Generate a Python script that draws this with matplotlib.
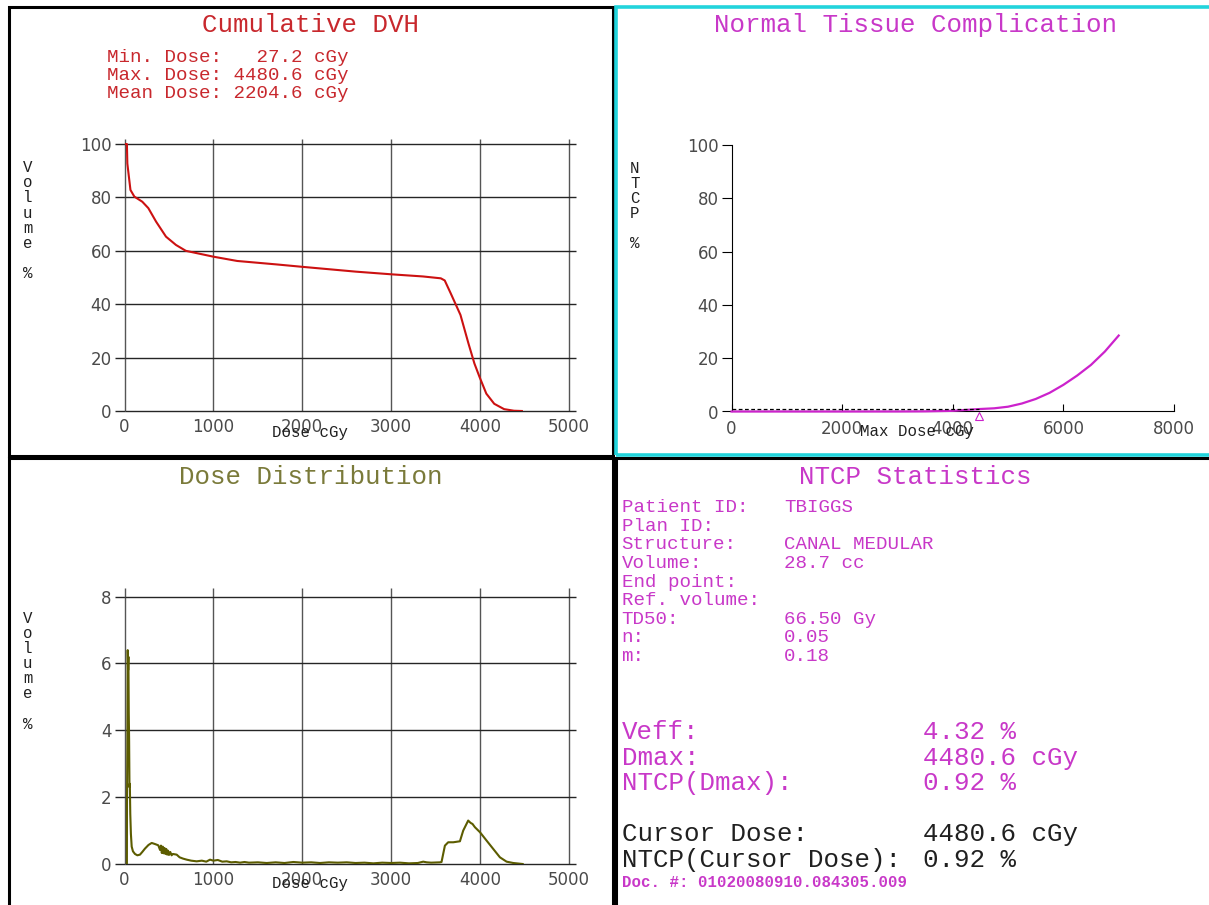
import matplotlib
matplotlib.use("Agg")
from matplotlib import pyplot as plt
from matplotlib.patches import Rectangle
from matplotlib.transforms import ScaledTranslation


# ---- Data ----

# Cumulative DVH (dose cGy, volume %)
dvh_dose = [0, 27, 32, 45, 67, 111, 200, 268, 356, 467, 579, 690, 1001, 1268, 1713,
            2002, 2603, 3003, 3358, 3559, 3603, 3670, 3780, 3870, 3937, 3994, 4071,
            4160, 4271, 4382, 4471]
dvh_volume = [100, 100, 92.7, 89, 82.8, 80.3, 78.4, 76, 70.9, 65.3, 62.2, 60, 57.8,
              56.2, 54.9, 54.0, 52.2, 51.2, 50.4, 49.7, 48.9, 44.1, 36.0, 25.3, 17.8,
              12.8, 6.5, 2.7, 0.7, 0.1, 0.0]

# Differential dose distribution (dose cGy, volume %)
dist_dose = [27, 28, 32, 36, 40, 44, 48, 52, 56, 60, 65, 72, 81, 95, 118, 145, 174,
             200, 230, 270, 306, 340, 380, 400, 410, 420, 430, 440, 450, 460, 470,
             480, 490, 500, 515, 530, 545, 587, 620, 660, 700, 750, 812, 870, 920,
             962, 1000, 1050, 1100, 1150, 1200, 1250, 1300, 1350, 1400, 1500, 1600,
             1700, 1800, 1900, 2000, 2100, 2200, 2300, 2400, 2500, 2600, 2700, 2800,
             2900, 3000, 3100, 3200, 3300, 3361, 3400, 3450, 3549, 3567, 3605, 3642,
             3699, 3774, 3811, 3867, 3886, 3900, 3915, 3943, 4000, 4074, 4149, 4224,
             4299, 4374, 4480]
dist_volume = [0.0, 1.8, 3.5, 6.4, 5.8, 6.2, 4.5, 3.7, 2.3, 2.4, 1.5, 0.9, 0.52, 0.38,
               0.3, 0.26, 0.28, 0.36, 0.46, 0.57, 0.63, 0.6, 0.56, 0.42, 0.55, 0.33,
               0.52, 0.32, 0.48, 0.3, 0.45, 0.28, 0.4, 0.27, 0.36, 0.26, 0.3, 0.28,
               0.2, 0.16, 0.13, 0.1, 0.08, 0.1, 0.07, 0.13, 0.1, 0.12, 0.07, 0.08,
               0.05, 0.06, 0.04, 0.06, 0.04, 0.05, 0.03, 0.05, 0.03, 0.06, 0.04, 0.05,
               0.03, 0.05, 0.04, 0.05, 0.03, 0.04, 0.02, 0.04, 0.03, 0.04, 0.02, 0.03,
               0.07, 0.05, 0.04, 0.05, 0.06, 0.55, 0.65, 0.65, 0.68, 1.0, 1.3, 1.25,
               1.22, 1.2, 1.1, 0.95, 0.7, 0.45, 0.2, 0.07, 0.03, 0.0]

# NTCP vs max dose (cGy, %)
ntcp_dose = [0, 1000, 2000, 3000, 3500, 4000, 4480.6, 4750, 5000, 5250, 5500, 5750,
             6000, 6250, 6500, 6750, 7000]
ntcp_value = [0, 0, 0, 0.01, 0.05, 0.25, 0.92, 1.2, 1.8, 3.0, 4.7, 7.0, 10.0, 13.5,
              17.5, 22.5, 28.5]

min_dose = 27.2
max_dose = 4480.6
mean_dose = 2204.6
cursor_dose = 4480.6
cursor_ntcp = 0.92
veff = 4.32

dvh_xticks = [0, 1000, 2000, 3000, 4000, 5000]
dvh_yticks = [0, 20, 40, 60, 80, 100]
dist_yticks = [0, 2, 4, 6, 8]
ntcp_xticks = [0, 2000, 4000, 6000, 8000]
ntcp_yticks = [0, 20, 40, 60, 80, 100]

stat_labels = ["Patient ID:", "Plan ID:", "Structure:", "Volume:", "End point:",
               "Ref. volume:", "TD50:", "n:", "m:"]
stat_values = ["TBIGGS", "", "CANAL MEDULAR", "28.7 cc", "", "", "66.50 Gy",
               "0.05", "0.18"]
result_labels = ["Veff:", "Dmax:", "NTCP(Dmax):"]
result_values = ["{:.2f} %".format(veff), "{:.1f} cGy".format(max_dose),
                 "{:.2f} %".format(cursor_ntcp)]
cursor_labels = ["Cursor Dose:", "NTCP(Cursor Dose):"]
cursor_values = ["{:.1f} cGy".format(cursor_dose), "{:.2f} %".format(cursor_ntcp)]
doc_number = "Doc. #: 01020080910.084305.009"


# ---- Styling ----

mono = "Liberation Mono"
red = "#cc1111"
red_text = "#c8282d"
magenta = "#cc22cc"
magenta_text = "#c838c8"
olive = "#5c5c00"
olive_text = "#7a7a3a"
cyan = "#22d4dc"
hgrid_c = "#252525"
vgrid_c = "#555555"
tick_c = "#4a4a4a"
big = 18.6
small = 13.8
tiny = 11.3

W, H = 1209, 905
fig = plt.figure(figsize=(W / 100, H / 100), dpi=100)
fig.patch.set_facecolor("white")


def add_axes_px(left, top, right, bottom):
  return fig.add_axes([left / W, 1 - bottom / H, (right - left) / W, (bottom - top) / H])


def ftext(x, y, s, **kw):
  kw.setdefault("family", mono)
  kw.setdefault("va", "center")
  fig.text(x / W, 1 - y / H, s, **kw)


def vlabel(x, y, s, step=15.1):
  for i, ch in enumerate(s):
    if ch != " ":
      ftext(x, y + i * step, ch, size=tiny, ha="center", color="#202020")


# Panel borders
for x0, y0, x1, y1, col, lw in [(9, 7, 613, 456, "black", 2.2),
                                (9, 458, 613, 910, "black", 2.2),
                                (616, 458, 1215, 910, "black", 2.2),
                                (616, 7, 1215, 455, cyan, 2.6)]:
  fig.add_artist(Rectangle((x0 / W, 1 - y1 / H), (x1 - x0) / W, (y1 - y0) / H,
                           transform=fig.transFigure, fill=False, edgecolor=col,
                           linewidth=lw))


def grid_axes(ax, xticks, yticks, xmax, ymax):
  ax.set_xlim(0, xmax)
  ax.set_ylim(0, ymax)
  for s in ax.spines.values():
    s.set_visible(False)
  ax.vlines(xticks, 0, ymax, color=vgrid_c, linewidth=1.0, clip_on=False)
  ax.hlines(yticks, 0, xmax, color=hgrid_c, linewidth=1.0, clip_on=False)
  ax.set_xticks(xticks)
  ax.set_yticks(yticks)
  ax.tick_params(axis="x", length=0, pad=5, labelsize=12, labelcolor=tick_c)
  ax.tick_params(axis="y", length=7.2, width=1.0, color=hgrid_c, pad=2.2,
                 labelsize=12, labelcolor=tick_c)
  ax.patch.set_alpha(0)


# ---- Cumulative DVH ----
ax1 = add_axes_px(124.5, 138.7, 576, 411)
grid_axes(ax1, dvh_xticks, dvh_yticks, 5080, 102)
ax1.plot(dvh_dose, dvh_volume, color=red, linewidth=1.5, zorder=5)

ftext(310, 25, "Cumulative DVH", size=big, ha="center", color=red_text)
ftext(106.7, 57, "Min. Dose: {:6.1f} cGy".format(min_dose), size=small, color=red_text)
ftext(106.7, 75.5, "Max. Dose: {:6.1f} cGy".format(max_dose), size=small, color=red_text)
ftext(106.7, 94, "Mean Dose: {:6.1f} cGy".format(mean_dose), size=small, color=red_text)
ftext(309.6, 432, "Dose cGy", size=tiny, ha="center", color="#202020")
vlabel(27.7, 167.7, "Volume %")

# ---- Dose distribution ----
ax3 = add_axes_px(124.5, 588.3, 576, 864)
grid_axes(ax3, dvh_xticks, dist_yticks, 5080, 8.25)
ax3.plot(dist_dose, dist_volume, color=olive, linewidth=1.5, zorder=5)

ftext(310.4, 476.7, "Dose Distribution", size=big, ha="center", color=olive_text)
ftext(309.6, 883.3, "Dose cGy", size=tiny, ha="center", color="#202020")
vlabel(27.7, 618.3, "Volume %")

# ---- NTCP curve ----
ax2 = add_axes_px(731.5, 145, 1174, 411.5)
ax2.set_xlim(0, 8000)
ax2.set_ylim(0, 100)
ax2.spines["top"].set_visible(False)
ax2.spines["right"].set_visible(False)
ax2.set_xticks(ntcp_xticks)
ax2.set_yticks(ntcp_yticks)
ax2.tick_params(axis="x", direction="in", length=5, pad=6, labelsize=12, labelcolor=tick_c)
ax2.tick_params(axis="y", direction="out", length=7.2, pad=2.2, labelsize=12,
                labelcolor=tick_c)
ax2.plot(ntcp_dose, ntcp_value, color=magenta, linewidth=1.6, clip_on=False, zorder=4)
ax2.plot([0, cursor_dose], [cursor_ntcp, cursor_ntcp], color="black", linewidth=0.9,
         dashes=(3, 2), zorder=5)
shift = ScaledTranslation(0, -5 / 100, fig.dpi_scale_trans)
ax2.plot([cursor_dose], [0], marker="^", markersize=6, markerfacecolor="none",
         markeredgecolor=magenta, markeredgewidth=0.8, clip_on=False,
         transform=ax2.transData + shift)

ftext(915.6, 25, "Normal Tissue Complication", size=big, ha="center", color=magenta_text)
ftext(916.5, 431, "Max Dose cGy", size=tiny, ha="center", color="#202020")
vlabel(634.8, 168.3, "NTCP %", step=15.0)

# ---- NTCP statistics ----
ftext(915.6, 476.7, "NTCP Statistics", size=big, ha="center", color=magenta_text)
row_y = 507.7
for lab, val in zip(stat_labels, stat_values):
  ftext(621.5, row_y, lab, size=small, color=magenta_text)
  ftext(783.8, row_y, val, size=small, color=magenta_text)
  row_y += 18.6

row_y = 731.7
for lab, val in zip(result_labels, result_values):
  ftext(621.5, row_y, lab, size=big, color=magenta_text)
  ftext(923, row_y, val, size=big, color=magenta_text)
  row_y += 25.8

row_y = 834.3
for lab, val in zip(cursor_labels, cursor_values):
  ftext(621.5, row_y, lab, size=big, color="#202020")
  ftext(923, row_y, val, size=big, color="#202020")
  row_y += 25.8

ftext(621.5, 882.7, doc_number, size=tiny, color=magenta_text, weight="bold")

fig.savefig("out.png", dpi=100, facecolor="white")
